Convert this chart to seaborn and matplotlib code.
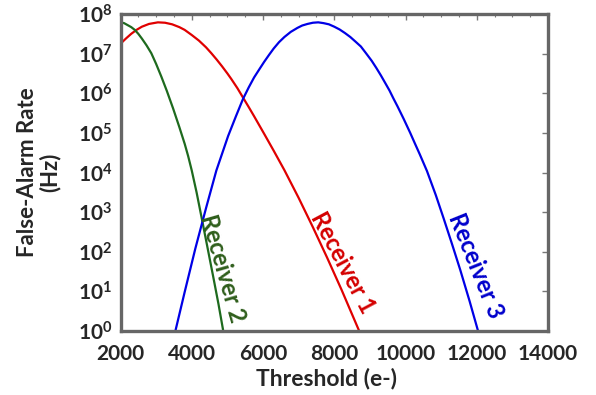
import matplotlib
matplotlib.use('Agg')
import matplotlib.pyplot as plt
import numpy as np
import pandas as pd
import seaborn as sns
from matplotlib.ticker import MultipleLocator, NullLocator

# 数据：阈值 (e-) 与误报率的对数 log10(Hz)
r1_threshold = [2000, 2150, 2300, 2450, 2600, 2800, 3050, 3250, 3450, 3650,
                3800, 4000, 4200, 4400, 4550, 4700, 4850, 5000, 5110, 5280,
                5440, 5600, 5750, 6030, 6300, 6600, 7000, 7400, 7800, 8200, 8700]
r1_log_rate = [7.25, 7.38, 7.50, 7.60, 7.68, 7.75, 7.79, 7.78, 7.74, 7.67,
               7.60, 7.47, 7.33, 7.16, 7.01, 6.85, 6.68, 6.50, 6.36, 6.13,
               5.89, 5.65, 5.42, 4.98, 4.55, 4.06, 3.36, 2.62, 1.85, 1.05, 0.00]

r2_threshold = [2000, 2100, 2200, 2300, 2400, 2500, 2600, 2730, 2865, 3000,
                3146, 3300, 3475, 3650, 3803, 3900, 4000, 4135, 4270, 4430,
                4598, 4750, 4880]
r2_log_rate = [7.79, 7.77, 7.72, 7.67, 7.60, 7.50, 7.38, 7.21, 7.01, 6.74,
               6.42, 6.06, 5.62, 5.15, 4.72, 4.41, 4.05, 3.50, 2.89, 2.16,
               1.39, 0.68, 0.02]

r3_threshold = [3540, 3800, 4100, 4400, 4690, 5020, 5240, 5440, 5600, 5750,
                5900, 6030, 6170, 6300, 6450, 6600, 6780, 6966, 7100, 7250,
                7400, 7550, 7700, 7850, 8000, 8150, 8300, 8450, 8600, 8747,
                8900, 9050, 9180, 9309, 9430, 9550, 9660, 9775, 9950, 10132,
                10270, 10400, 10601, 10850, 11067, 11300, 11537, 11800, 12030]
r3_log_rate = [0.00, 0.98, 2.08, 3.10, 4.05, 4.92, 5.42, 5.86, 6.15, 6.40,
               6.61, 6.79, 6.97, 7.13, 7.29, 7.42, 7.55, 7.65, 7.71, 7.75,
               7.78, 7.79, 7.77, 7.74, 7.68, 7.61, 7.52, 7.42, 7.30, 7.18,
               7.00, 6.82, 6.64, 6.45, 6.26, 6.07, 5.87, 5.67, 5.35, 5.00,
               4.72, 4.46, 4.04, 3.43, 2.85, 2.21, 1.54, 0.75, 0.02]

receivers = ['Receiver 1', 'Receiver 2', 'Receiver 3']
line_colors = ['#e00000', '#1e6a1e', '#0000e6']
text_colors = ['#d40000', '#2f5e1c', '#0000cc']
x_ticks = [2000, 4000, 6000, 8000, 10000, 12000, 14000]
x_tick_labels = ['2000', '4000', '6000', '8000', '10000', '12000', '14000']
y_ticks = [1e0, 1e1, 1e2, 1e3, 1e4, 1e5, 1e6, 1e7, 1e8]
y_tick_labels = [r'$\mathbf{10^{%d}}$' % i for i in range(9)]

df = pd.concat([
    pd.DataFrame({'threshold': r1_threshold, 'rate': 10 ** np.array(r1_log_rate), 'receiver': receivers[0]}),
    pd.DataFrame({'threshold': r2_threshold, 'rate': 10 ** np.array(r2_log_rate), 'receiver': receivers[1]}),
    pd.DataFrame({'threshold': r3_threshold, 'rate': 10 ** np.array(r3_log_rate), 'receiver': receivers[2]}),
])

sns.set_theme(style='white')
plt.rcParams['font.family'] = ['Lato', 'DejaVu Sans']
plt.rcParams['mathtext.fontset'] = 'custom'
plt.rcParams['mathtext.bf'] = 'Lato:bold'
plt.rcParams['mathtext.rm'] = 'Lato'

fig = plt.figure(figsize=(5.96, 3.95), dpi=100)
ax = fig.add_axes([0.2022, 0.162, 0.7173, 0.8025])

sns.lineplot(data=df, x='threshold', y='rate', hue='receiver', palette=line_colors,
             hue_order=receivers, linewidth=1.6, legend=False, ax=ax, sort=False)

ax.set_yscale('log')
ax.set_xlim(2000, 14000)
ax.set_ylim(1, 1e8)

ax.set_xticks(x_ticks)
ax.set_xticklabels(x_tick_labels, fontsize=15, fontweight='bold')
ax.xaxis.set_minor_locator(MultipleLocator(500))
ax.set_yticks(y_ticks)
ax.set_yticklabels(y_tick_labels, fontsize=15)
ax.yaxis.set_minor_locator(NullLocator())

ax.tick_params(which='both', direction='in', top=True, right=True, color='#777777')
ax.tick_params(which='major', length=4.5, width=1)
ax.tick_params(axis='x', which='major', pad=9)
ax.tick_params(axis='y', which='major', pad=6)
ax.tick_params(which='minor', length=2.5, width=0.8)

for s in ax.spines.values():
    s.set_color('#666666')
    s.set_linewidth(2.4)

ax.set_xlabel('Threshold (e-)', fontsize=16.5, fontweight='bold')
ax.xaxis.set_label_coords(0.483, -0.115)
ax.set_ylabel('False-Alarm Rate\n(Hz)', fontsize=16, fontweight='bold', linespacing=1.05)
ax.yaxis.set_label_coords(-0.14, 0.5)

# 曲线旁的标签
label_pos = [(8250, 10**1.72, -62), (4860, 10**1.58, -74), (11960, 10**1.64, -68)]
for name, col, (lx, ly, rot) in zip(receivers, text_colors, label_pos):
    ax.text(lx, ly, name, color=col, fontsize=17, fontweight='bold', rotation=rot,
            rotation_mode='anchor', ha='center', va='center')

fig.savefig('out.png', dpi=100)
